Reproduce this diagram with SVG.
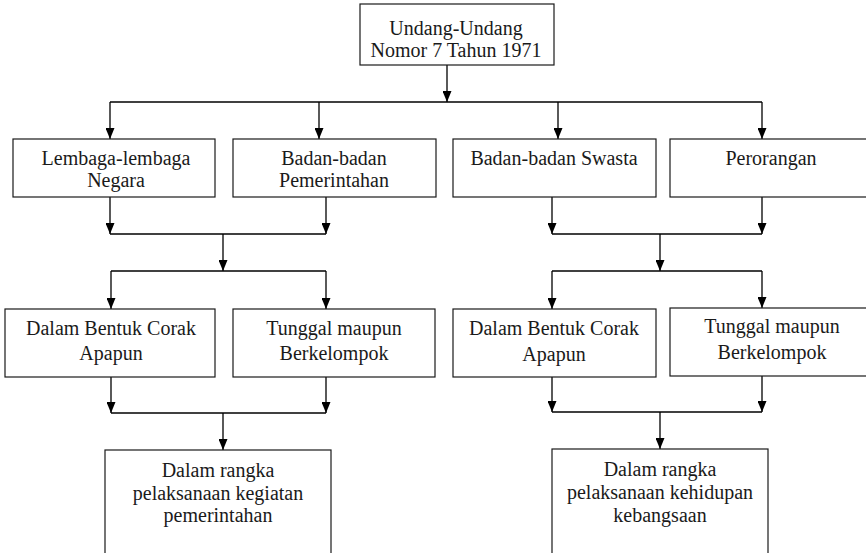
<svg xmlns="http://www.w3.org/2000/svg" width="866" height="553" viewBox="0 0 866 553">
<style>
.box{fill:#fff;stroke:#1a1a1a;stroke-width:1.2}
.t{font-family:"Liberation Serif","Times New Roman",serif;font-size:20px;fill:#1a1a1a;text-anchor:middle}
.c{fill:none;stroke:#000;stroke-width:1.3}
.a{marker-end:url(#ah)}
</style>
<defs>
<marker id="ah" viewBox="0 0 11 9" refX="11" refY="4.5" markerWidth="11" markerHeight="9" markerUnits="userSpaceOnUse" orient="auto">
<path d="M0,0 L11,4.5 L0,9 z" fill="#000"/>
</marker>
</defs>
<rect width="866" height="553" fill="#fff"/>
<g id="connectors">
<path class="c a" d="M447,65 V102"/>
<path class="c" d="M110,102 H762"/>
<path class="c a" d="M110,102 V139"/>
<path class="c a" d="M319,102 V139"/>
<path class="c a" d="M558,102 V139"/>
<path class="c a" d="M762,102 V139"/>
<path class="c a" d="M110,197 V234"/>
<path class="c a" d="M326,197 V234"/>
<path class="c" d="M110,234 H326"/>
<path class="c a" d="M223,234 V271"/>
<path class="c" d="M111,271 H326"/>
<path class="c a" d="M111,271 V309"/>
<path class="c a" d="M326,271 V309"/>
<path class="c a" d="M552,197 V234"/>
<path class="c a" d="M762,197 V234"/>
<path class="c" d="M552,234 H762"/>
<path class="c a" d="M660,234 V271"/>
<path class="c" d="M552,271 H762"/>
<path class="c a" d="M552,271 V309"/>
<path class="c a" d="M762,271 V308"/>
<path class="c a" d="M111,377 V413"/>
<path class="c a" d="M326,377 V413"/>
<path class="c" d="M111,413 H326"/>
<path class="c a" d="M223,413 V450"/>
<path class="c a" d="M552,377 V412"/>
<path class="c a" d="M762,376 V412"/>
<path class="c" d="M552,412 H762"/>
<path class="c a" d="M660,412 V449"/>
</g>
<g id="n-uu">
<rect class="box" x="360" y="4" width="194" height="61"/>
<text class="t" x="456" y="35">Undang-Undang</text>
<text class="t" x="456" y="57">Nomor 7 Tahun 1971</text>
</g>
<g id="n-lembaga">
<rect class="box" x="13" y="139" width="202" height="58"/>
<text class="t" x="116" y="165">Lembaga-lembaga</text>
<text class="t" x="116" y="187">Negara</text>
</g>
<g id="n-badan-pem">
<rect class="box" x="233" y="139" width="203" height="58"/>
<text class="t" x="334" y="165">Badan-badan</text>
<text class="t" x="334" y="187">Pemerintahan</text>
</g>
<g id="n-swasta">
<rect class="box" x="453" y="139" width="203" height="58"/>
<text class="t" x="554" y="165">Badan-badan Swasta</text>
</g>
<g id="n-perorangan">
<rect class="box" x="670" y="139" width="205" height="58"/>
<text class="t" x="771" y="165">Perorangan</text>
</g>
<g id="n-corak-l">
<rect class="box" x="5" y="309" width="210" height="68"/>
<text class="t" x="111" y="335">Dalam Bentuk Corak</text>
<text class="t" x="111" y="360">Apapun</text>
</g>
<g id="n-tunggal-l">
<rect class="box" x="233" y="309" width="202" height="68"/>
<text class="t" x="334" y="335">Tunggal maupun</text>
<text class="t" x="334" y="360">Berkelompok</text>
</g>
<g id="n-corak-r">
<rect class="box" x="453" y="309" width="203" height="68"/>
<text class="t" x="554" y="335">Dalam Bentuk Corak</text>
<text class="t" x="554" y="361">Apapun</text>
</g>
<g id="n-tunggal-r">
<rect class="box" x="670" y="308" width="205" height="68"/>
<text class="t" x="772" y="333">Tunggal maupun</text>
<text class="t" x="772" y="359">Berkelompok</text>
</g>
<g id="n-pemerintahan">
<rect class="box" x="105" y="450" width="226" height="120"/>
<text class="t" x="218" y="477">Dalam rangka</text>
<text class="t" x="218" y="500">pelaksanaan kegiatan</text>
<text class="t" x="218" y="522">pemerintahan</text>
</g>
<g id="n-kebangsaan">
<rect class="box" x="552" y="449" width="216" height="120"/>
<text class="t" x="660" y="476">Dalam rangka</text>
<text class="t" x="660" y="499">pelaksanaan kehidupan</text>
<text class="t" x="660" y="522">kebangsaan</text>
</g>
</svg>
